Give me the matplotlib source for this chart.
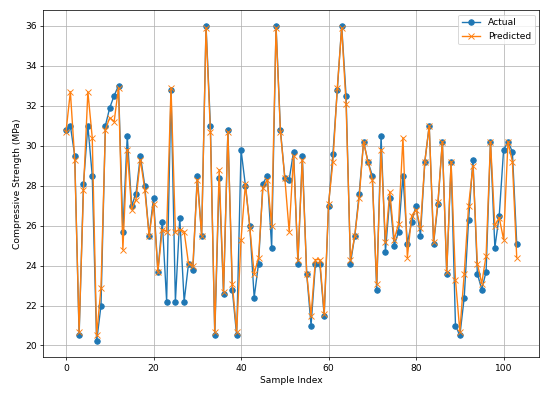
import matplotlib
matplotlib.use('Agg')
import matplotlib.pyplot as plt
import numpy as np

# values
actual = [30.8, 31.0, 29.5, 20.5, 28.1, 31.0, 28.5, 20.2, 22.0, 31.0,
          31.9, 32.5, 33.0, 25.7, 30.5, 27.0, 27.6, 29.5, 28.0, 25.5,
          27.4, 23.7, 26.2, 22.2, 32.8, 22.2, 26.4, 22.2, 24.1, 23.8,
          28.5, 25.5, 36.0, 31.0, 20.5, 28.4, 22.6, 30.8, 22.8, 20.5,
          29.8, 28.0, 26.0, 22.4, 24.1, 28.1, 28.5, 24.9, 36.0, 30.8,
          28.4, 28.3, 29.7, 24.1, 29.5, 23.6, 21.0, 24.1, 24.1, 21.5,
          27.0, 29.6, 32.8, 36.0, 32.5, 24.1, 25.5, 27.6, 30.2, 29.2,
          28.5, 22.8, 30.5, 24.7, 27.4, 25.0, 25.7, 28.5, 25.1, 26.2,
          27.0, 25.5, 29.2, 31.0, 25.1, 27.1, 30.2, 23.6, 29.2, 21.0,
          20.5, 22.4, 26.3, 29.3, 23.6, 22.8, 23.7, 30.2, 24.9, 26.5,
          29.8, 30.2, 29.7, 25.1]

predicted = [30.7, 32.7, 29.3, 20.7, 27.8, 32.7, 30.4, 20.5, 22.9, 30.8,
             31.4, 31.2, 32.9, 24.8, 29.8, 26.8, 27.3, 29.3, 27.8, 25.5,
             27.1, 23.7, 25.8, 25.7, 32.9, 25.7, 25.8, 25.7, 24.1, 24.0,
             28.3, 25.5, 35.9, 30.7, 20.7, 28.8, 22.7, 30.7, 23.1, 20.7,
             25.3, 28.1, 25.9, 23.6, 24.4, 27.9, 28.3, 26.0, 35.9, 30.7,
             28.4, 25.7, 29.5, 24.3, 29.3, 23.6, 21.5, 24.3, 24.3, 21.6,
             27.1, 29.2, 32.9, 35.9, 32.1, 24.3, 25.5, 27.4, 30.2, 29.2,
             28.3, 23.1, 29.8, 25.2, 27.7, 25.3, 26.1, 30.4, 24.4, 26.5,
             26.8, 25.9, 29.2, 31.0, 25.2, 27.2, 30.2, 23.7, 29.2, 23.3,
             20.7, 23.6, 27.0, 29.0, 24.1, 23.1, 24.5, 30.2, 26.0, 26.4,
             25.3, 30.2, 29.2, 24.4]

idx = np.arange(len(actual))

fig, ax = plt.subplots(figsize=(550/66, 395/66), dpi=66)
ax.plot(idx, actual, marker='o', label='Actual')
ax.plot(idx, predicted, marker='x', label='Predicted')
ax.set_xlabel('Sample Index')
ax.set_ylabel('Compressive Strength (MPa)')
ax.legend(loc='upper right')
ax.grid(True)
plt.subplots_adjust(left=0.079, right=0.9805, bottom=0.0955, top=0.9747)
plt.savefig('out.png', dpi=66)
